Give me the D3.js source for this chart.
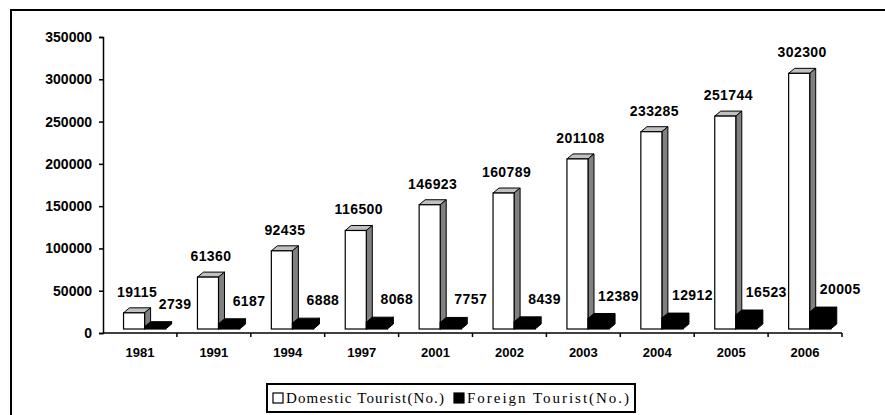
<!DOCTYPE html>
<html>
<head>
<meta charset="utf-8">
<script src="https://cdn.jsdelivr.net/npm/d3@7"></script>
<style>
  body { margin: 0; background: #fff; }
  svg { display: block; }
</style>
</head>
<body>
<div id="chart"></div>
<script>
// data
const years = ["1981", "1991", "1994", "1997", "2001", "2002", "2003", "2004", "2005", "2006"];
const domestic = [19115, 61360, 92435, 116500, 146923, 160789, 201108, 233285, 251744, 302300];
const foreign = [2739, 6187, 6888, 8068, 7757, 8439, 12389, 12912, 16523, 20005];
const yTicks = [0, 50000, 100000, 150000, 200000, 250000, 300000, 350000];
const seriesNames = ["Domestic Tourist(No.)", "Foreign Tourist(No.)"];

const W = 885, H = 415;
const svg = d3.select("#chart").append("svg")
    .attr("width", W).attr("height", H);

// outer frame (runs off the right and bottom edges)
svg.append("rect")
    .attr("x", 11).attr("y", 10)
    .attr("width", 900).attr("height", 430)
    .attr("fill", "none").attr("stroke", "#000").attr("stroke-width", 2);

const x = d3.scaleBand().domain(years).range([103, 842]).padding(0);
const y = d3.scaleLinear().domain([0, 350000]).range([333, 37]);

const bw = x.bandwidth();
const barOff = bw * 0.278, barW = bw * 0.285;
const lift = 4;          // bars stand a little above the axis line
const dx = 6, dy = 5;    // 3d depth

const labelFont = "'Liberation Sans', Arial, sans-serif";

// y axis
const yAxis = svg.append("g")
    .attr("transform", "translate(103,0)")
    .call(d3.axisLeft(y).tickValues(yTicks).tickSize(4).tickPadding(7)
        .tickFormat(d3.format("d")));
yAxis.select(".domain").attr("stroke", "#000").attr("stroke-width", 1.5);
yAxis.selectAll(".tick line").attr("stroke", "#000").attr("stroke-width", 1.5);
yAxis.selectAll("text")
    .style("font-family", labelFont).style("font-size", "14px")
    .style("font-weight", "bold").attr("fill", "#000");

// x axis: ticks at category boundaries
const xAxis = svg.append("g").attr("transform", `translate(0,${y(0)})`);
xAxis.append("line")
    .attr("x1", x.range()[0]).attr("x2", x.range()[1])
    .attr("stroke", "#000").attr("stroke-width", 1.5);
xAxis.selectAll("line.tk")
    .data(years.slice(1).concat(["end"]))
    .enter().append("line").attr("class", "tk")
    .attr("x1", d => d === "end" ? x.range()[1] : x(d))
    .attr("x2", d => d === "end" ? x.range()[1] : x(d))
    .attr("y1", 0).attr("y2", 4)
    .attr("stroke", "#000").attr("stroke-width", 1.5);
xAxis.selectAll("text")
    .data(years).enter().append("text")
    .attr("x", d => x(d) + bw / 2)
    .attr("y", 24)
    .attr("text-anchor", "middle")
    .style("font-family", labelFont).style("font-size", "13px")
    .style("font-weight", "bold")
    .text(d => d);

// 3d bar helper
function bar3d(g, x0, w, v, front, top, side) {
    const yt = y(v) - lift, yb = y(0) - lift;
    g.append("polygon")
        .attr("points", [[x0, yt], [x0 + dx, yt - dy], [x0 + w + dx, yt - dy], [x0 + w, yt]].join(" "))
        .attr("fill", top).attr("stroke", "#000").attr("stroke-width", 1);
    g.append("polygon")
        .attr("points", [[x0 + w, yt], [x0 + w + dx, yt - dy], [x0 + w + dx, yb - dy], [x0 + w, yb]].join(" "))
        .attr("fill", side).attr("stroke", "#000").attr("stroke-width", 1);
    g.append("rect")
        .attr("x", x0).attr("y", yt)
        .attr("width", w).attr("height", Math.max(0, yb - yt))
        .attr("fill", front).attr("stroke", "#000").attr("stroke-width", 1.2);
}

const bars = svg.append("g");
years.forEach((yr, i) => {
    const g = bars.append("g");
    const x0 = x(yr) + barOff;
    bar3d(g, x0, barW, domestic[i], "#fff", "#c0c0c0", "#808080");
    bar3d(g, x0 + barW, barW, foreign[i], "#000", "#000", "#000");
});

// value labels
const labels = svg.append("g")
    .style("font-family", labelFont).style("font-size", "14px")
    .style("font-weight", "bold").style("letter-spacing", "0.4px")
    .attr("text-anchor", "middle");
labels.selectAll("text.dom")
    .data(years).enter().append("text").attr("class", "dom")
    .attr("x", (d, i) => x(d) + barOff + barW / 2 + 3)
    .attr("y", (d, i) => y(domestic[i]) - lift - 16)
    .text((d, i) => domestic[i]);
labels.selectAll("text.for")
    .data(years).enter().append("text").attr("class", "for")
    .attr("x", (d, i) => x(d) + barOff + barW * 1.5 + 20)
    .attr("y", (d, i) => y(foreign[i]) - lift - 18)
    .text((d, i) => foreign[i]);

// legend
const leg = svg.append("g");
leg.append("rect")
    .attr("x", 267).attr("y", 384)
    .attr("width", 368).attr("height", 28)
    .attr("fill", "#fff").attr("stroke", "#000").attr("stroke-width", 2);
const legX = [273, 454];
const legLen = [158, 162];
const legFill = ["#fff", "#000"];
seriesNames.forEach((name, i) => {
    leg.append("rect")
        .attr("x", legX[i]).attr("y", 393)
        .attr("width", 10).attr("height", 10)
        .attr("fill", legFill[i]).attr("stroke", "#000").attr("stroke-width", 1.2);
    leg.append("text")
        .attr("x", legX[i] + 13).attr("y", 403)
        .attr("textLength", legLen[i]).attr("lengthAdjust", "spacing")
        .style("font-family", "'Liberation Serif', 'Times New Roman', serif")
        .style("font-size", "15px")
        .text(name);
});
</script>
</body>
</html>
